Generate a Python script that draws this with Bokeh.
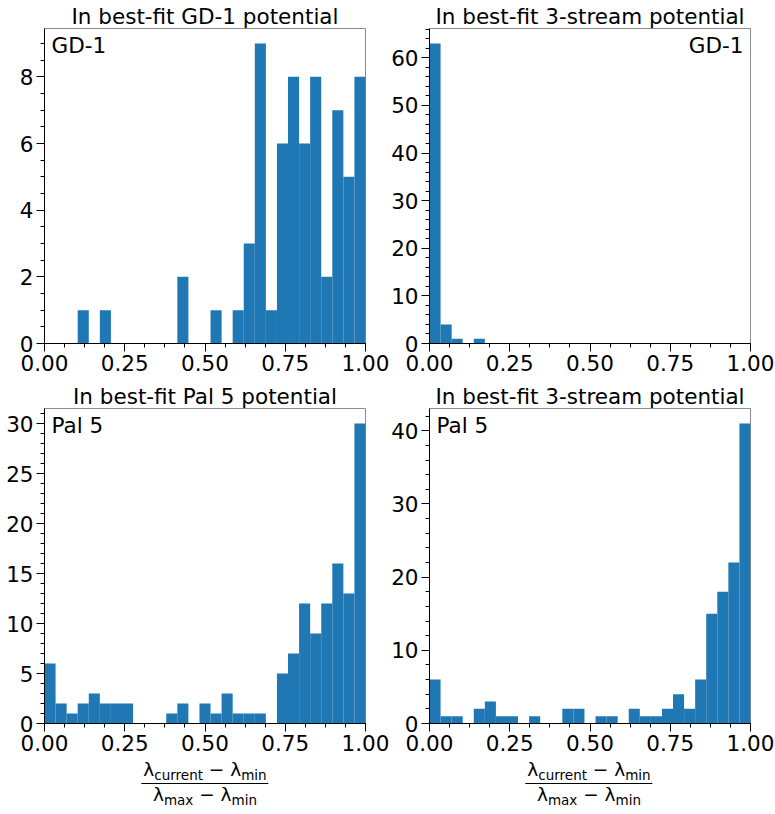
import numpy as np
from bokeh.plotting import figure
from bokeh.layouts import column, row
from bokeh.models import Range1d, FixedTicker, NumeralTickFormatter, Label, Div
from bokeh.embed import file_html
from bokeh.resources import INLINE

# ---- data (29 equal bins on [0, 1]) ----
n_bins = 29
x_min, x_max = 0.0, 1.0

gd1_in_gd1_pot = [0, 0, 0, 1, 0, 1, 0, 0, 0, 0, 0, 0, 2, 0, 0, 1, 0, 1, 3, 9, 1, 6, 8, 6, 8, 2, 7, 5, 8]
gd1_in_3stream_pot = [63, 4, 1, 0, 1, 0, 0, 0, 0, 0, 0, 0, 0, 0, 0, 0, 0, 0, 0, 0, 0, 0, 0, 0, 0, 0, 0, 0, 0]
pal5_in_pal5_pot = [6, 2, 1, 2, 3, 2, 2, 2, 0, 0, 0, 1, 2, 0, 2, 1, 3, 1, 1, 1, 0, 5, 7, 12, 9, 12, 16, 13, 30]
pal5_in_3stream_pot = [6, 1, 1, 0, 2, 3, 1, 1, 0, 1, 0, 0, 2, 2, 0, 1, 1, 0, 2, 1, 1, 2, 4, 2, 6, 15, 18, 22, 41]

titles = ["In best-fit GD-1 potential", "In best-fit 3-stream potential",
          "In best-fit Pal 5 potential", "In best-fit 3-stream potential"]
stream_names = ["GD-1", "GD-1", "Pal 5", "Pal 5"]
name_sides = ["left", "right", "left", "left"]
y_major_steps = [2, 10, 5, 10]
y_minor_steps = [0.5, 2, 1, 2]
x_tick_labels = ["0.00", "0.25", "0.50", "0.75", "1.00"]

BAR = "#1f77b4"
FONT = "DejaVu Sans"
FS = "21.5px"

edges = np.linspace(x_min, x_max, n_bins + 1)


def make_panel(counts, title, name, side, ymaj, ymin_step, left_b, right_b, width, margin):
    counts = np.asarray(counts, dtype=float)
    ytop = counts.max() * 1.05
    p = figure(width=width, height=380, output_backend="svg", toolbar_location=None,
               x_range=Range1d(x_min, x_max), y_range=Range1d(0, ytop),
               min_border_left=left_b, min_border_right=right_b,
               min_border_top=28, min_border_bottom=37, margin=margin)
    p.title.text = title
    p.title.align = "center"
    p.title.text_font = FONT
    p.title.text_font_size = FS
    p.title.text_font_style = "normal"
    p.title.text_color = "black"
    p.title.standoff = 0
    p.title.offset = 0
    p.quad(left=edges[:-1], right=edges[1:], bottom=0, top=counts,
           fill_color=BAR, line_color=None)
    p.grid.visible = False
    p.outline_line_color = "#8c8c8c"
    p.outline_line_width = 1
    p.background_fill_color = "white"
    p.border_fill_color = "white"
    p.border_fill_alpha = 0.0

    xt = [float(s) for s in x_tick_labels]
    p.xaxis.ticker = FixedTicker(ticks=xt, minor_ticks=list(np.arange(0, 1.0001, 0.0625)))
    p.xaxis.formatter = NumeralTickFormatter(format="0.00")
    yt = list(np.arange(0, ytop + 1e-9, ymaj))
    ym = list(np.arange(0, ytop + 1e-9, ymin_step))
    p.yaxis.ticker = FixedTicker(ticks=yt, minor_ticks=ym)
    p.yaxis.formatter = NumeralTickFormatter(format="0")
    for ax in (p.xaxis, p.yaxis):
        ax.axis_line_color = "black"
        ax.axis_line_width = 1
        ax.major_tick_line_color = "black"
        ax.minor_tick_line_color = "black"
        ax.major_tick_out = 8
        ax.major_tick_in = 0
        ax.minor_tick_out = 4
        ax.minor_tick_in = 0
        ax.major_label_text_font = FONT
        ax.major_label_text_font_size = FS
        ax.major_label_text_color = "black"
        ax.major_label_standoff = 3
    if side == "left":
        lab = Label(x=x_min, y=ytop, text=name, x_offset=7, y_offset=-4,
                    text_align="left", text_baseline="top",
                    text_font=FONT, text_font_size=FS, text_color="black")
    else:
        lab = Label(x=x_max, y=ytop, text=name, x_offset=-7, y_offset=-4,
                    text_align="right", text_baseline="top",
                    text_font=FONT, text_font_size=FS, text_color="black")
    p.add_layout(lab)
    return p


# left panels are 30 px wider on the right so that "1.00" is not squeezed;
# right panels are pulled back over that extra strip (transparent border)
p1 = make_panel(gd1_in_gd1_pot, titles[0], stream_names[0], name_sides[0],
                y_major_steps[0], y_minor_steps[0], 44, 30, 395, (0, 0, 0, 0))
p2 = make_panel(gd1_in_3stream_pot, titles[1], stream_names[1], name_sides[1],
                y_major_steps[1], y_minor_steps[1], 49, 25, 395, (0, 0, 0, -15))
p3 = make_panel(pal5_in_pal5_pot, titles[2], stream_names[2], name_sides[2],
                y_major_steps[2], y_minor_steps[2], 44, 30, 395, (0, 0, 0, 0))
p4 = make_panel(pal5_in_3stream_pot, titles[3], stream_names[3], name_sides[3],
                y_major_steps[3], y_minor_steps[3], 49, 25, 395, (0, 0, 0, -15))


def frac_div(width, cx):
    sub = "font-size:13.5px;position:relative;top:4px;"
    lam = "λ"
    num = f'{lam}<span style="{sub}">current</span> − {lam}<span style="{sub}">min</span>'
    den = f'{lam}<span style="{sub}">max</span> − {lam}<span style="{sub}">min</span>'
    html = (
        f'<div style="width:{width}px;height:54px;position:relative;'
        f'font-family:\'DejaVu Sans\';font-size:18.5px;color:black;">'
        f'<div style="position:absolute;left:{cx}px;top:-1px;transform:translateX(-50%);'
        f'text-align:center;white-space:nowrap;">'
        f'<div style="line-height:22px;padding:0 2px 1px 2px;">{num}</div>'
        f'<div style="line-height:22px;border-top:1.3px solid black;padding-top:0px;">{den}</div>'
        f'</div></div>'
    )
    return Div(text=html, width=width, height=54, margin=0)


d3 = frac_div(380, 205)
d4 = frac_div(395, 209)

layout = column(row(p1, p2, spacing=0), row(p3, p4, spacing=0), row(d3, d4, spacing=0), spacing=0)

open("out.html", "w").write(file_html(layout, INLINE))
